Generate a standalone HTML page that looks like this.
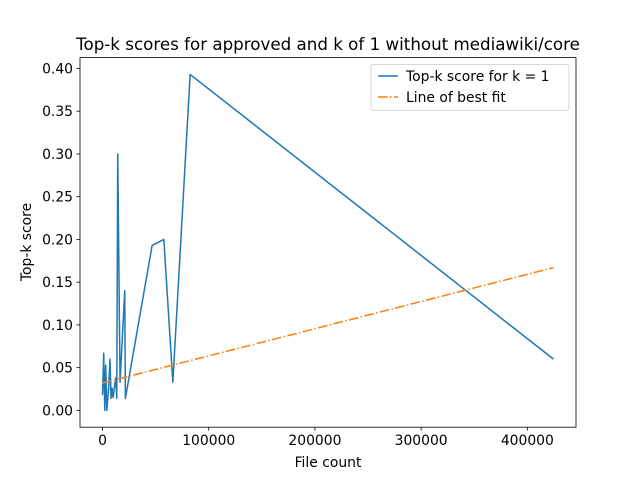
<!DOCTYPE html>
<html><head><meta charset="utf-8"><style>body{margin:0;background:#fff}svg{font-family:"DejaVu Sans","Liberation Sans",sans-serif}</style></head>
<body>
<svg id="chart" width="640" height="480"></svg>
<script>
const xs=[0,1100,2100,3000,4000,5800,7000,8000,9000,9900,12400,13400,14300,16500,20900,21500,46700,57700,66200,82500,424600];
const ys=[0.018,0.067,0.0,0.053,0.0,0.027,0.060,0.014,0.026,0.015,0.038,0.014,0.300,0.033,0.140,0.014,0.193,0.200,0.033,0.393,0.060];
const fitX=[0,424600];
const fitY=[0.032,0.167];
const xTicks=[0,100000,200000,300000,400000];
const yTicks=[0,0.05,0.10,0.15,0.20,0.25,0.30,0.35,0.40];
const NS="http://www.w3.org/2000/svg";
const svg=document.getElementById('chart');
const L=80,R=576,T=57.6,B=427.2;
const xmin=-21230,xmax=445830,ymin=-0.01965,ymax=0.4127;
const X=v=>L+(v-xmin)/(xmax-xmin)*(R-L);
const Y=v=>B-(v-ymin)/(ymax-ymin)*(B-T);
function el(t,a,txt){const e=document.createElementNS(NS,t);for(const k in a)e.setAttribute(k,a[k]);if(txt!==undefined)e.textContent=txt;svg.appendChild(e);return e;}
xTicks.forEach(v=>{const t=el('line',{x1:X(v),x2:X(v),y1:B,y2:B+3.5,stroke:'#000','stroke-width':0.8});

const l=el('text',{x:X(v),y:B+18,'font-size':13.9,'text-anchor':'middle'},String(v));
});
yTicks.forEach(v=>{const t=el('line',{x1:L-3.5,x2:L,y1:Y(v),y2:Y(v),stroke:'#000','stroke-width':0.8});

const l=el('text',{x:L-7,y:Y(v)+5,'font-size':13.9,'text-anchor':'end'},v.toFixed(2));
});
const p=el('polyline',{points:xs.map((x,i)=>X(x)+','+Y(ys[i])).join(' '),fill:'none',stroke:'#1f77b4','stroke-width':1.5,'stroke-linejoin':'round'});

const f=el('polyline',{points:fitX.map((x,i)=>X(x)+','+Y(fitY[i])).join(' '),fill:'none',stroke:'#ff7f0e','stroke-width':1.5,'stroke-dasharray':'9.6,2.4,1.5,2.4'});

const fr=el('rect',{x:L,y:T,width:R-L,height:B-T,fill:'none',stroke:'#000','stroke-width':0.8});

const ti=el('text',{x:328,y:50,'font-size':16.7,'text-anchor':'middle'},'Top-k scores for approved and k of 1 without mediawiki/core');

const xt=el('text',{x:328,y:467,'font-size':13.9,'text-anchor':'middle'},'File count');

const yt=el('text',{x:31,y:242,'font-size':13.9,'text-anchor':'middle',transform:'rotate(-90 31 242)'},'Top-k score');

const lg=el('rect',{x:371,y:64.5,width:198,height:46,rx:2,fill:'#fff',stroke:'#ccc','stroke-width':0.8});

const l1=el('line',{x1:378,x2:398,y1:76,y2:76,stroke:'#1f77b4','stroke-width':1.5});

const t1=el('text',{x:406,y:81,'font-size':13.9},'Top-k score for k = 1');

const l2=el('line',{x1:378,x2:398,y1:97,y2:97,stroke:'#ff7f0e','stroke-width':1.5,'stroke-dasharray':'9.6,2.4,1.5,2.4'});

const t2=el('text',{x:406,y:102,'font-size':13.9},'Line of best fit');

</script>
</body></html>
